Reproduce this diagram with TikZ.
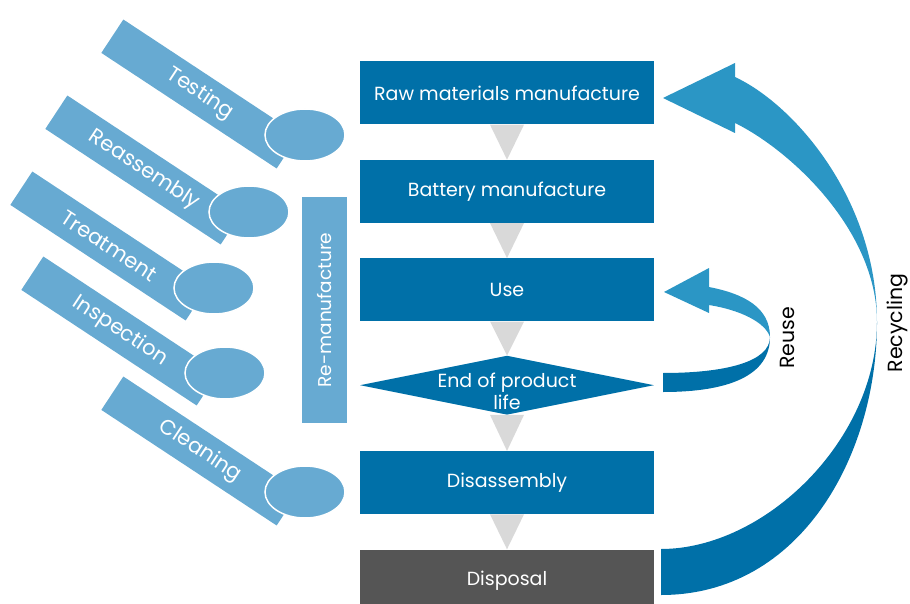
\documentclass[tikz,border=0pt]{standalone}
\usepackage{fontspec}
\setmainfont{Poppins}
\definecolor{boxblue}{HTML}{0070A8}
\definecolor{barblue}{HTML}{67AAD2}
\definecolor{loopblue}{HTML}{2B96C5}
\definecolor{dispgray}{HTML}{555555}
\definecolor{trigray}{HTML}{D9D9D9}
\usetikzlibrary{positioning, shapes.geometric, calc}
\tikzset{
	stage/.style={fill=boxblue, minimum width=294pt, minimum height=63pt,
		inner sep=0pt, text=white, font=\fontsize{19}{22}\selectfont, align=center},
	bar/.style={fill=barblue, minimum width=210pt, minimum height=40pt,
		inner sep=0pt, text=white, font=\fontsize{21}{24}\selectfont},
	blob/.style={ellipse, fill=barblue, draw=white, line width=1.5pt,
		minimum width=80pt, minimum height=52pt},
	tri/.style={fill=trigray},
	loopdark/.style={fill=boxblue},
	looplight/.style={fill=loopblue},
	sidelabel/.style={rotate=90, inner sep=1pt, font=\fontsize{20.5}{23}\selectfont}
}

\begin{document}
\begin{tikzpicture}[x=1pt, y=-1pt, node distance=35pt]
	\useasboundingbox (0,0) rectangle (910,604);
	% re-manufacture steps
	\node[bar, rotate=-33.4] (testing) at (200,94) {Testing};
	\node[blob] (testingend) at (305,135) {};
	\node[bar, rotate=-33.4] (reassembly) at (144,170) {Reassembly};
	\node[blob] (reassemblyend) at (249,212) {};
	\node[bar, rotate=-33.4] (treatment) at (109,246) {Treatment};
	\node[blob] (treatmentend) at (214,288) {};
	\node[bar, rotate=-33.4] (inspection) at (120,331) {Inspection};
	\node[blob] (inspectionend) at (225,373) {};
	\node[bar, rotate=-33.4] (cleaning) at (200,451) {Cleaning};
	\node[blob] (cleaningend) at (305,492) {};
	\node[bar, rotate=90, minimum width=226pt, minimum height=45pt,
		font=\fontsize{18.5}{21}\selectfont] (reman) at (324.5,310) {Re-manufacture};
	% life cycle
	\node[stage] (raw) at (507,93) {Raw materials manufacture};
	\node[stage, below=of raw] (battery) {Battery manufacture};
	\node[stage, below=of battery] (use) {Use};
	\node[stage, diamond, minimum height=59pt, below=34pt of use] (eol) {};
	\node[text=white, font=\fontsize{19}{22}\selectfont, align=center] (eoltext) at ($(eol)+(0,6)$) {End of product\\life};
	\node[stage, below=36pt of eol] (disasm) {Disassembly};
	\node[stage, fill=dispgray, below=of disasm] (disposal) {Disposal};
	\foreach \a/\b in {raw/battery, battery/use, use/eol, eol/disasm, disasm/disposal}
		\fill[tri] ($(\a.south)+(-17,0)$) -- ($(\a.south)+(17,0)$) -- (\b.north) -- cycle;
	% reuse loop
	\fill[loopdark] (663,392) .. controls (730,392) and (770,375) .. (770,337)
		.. controls (770,362) and (725,373) .. (663,373) -- cycle;
	\fill[looplight] (770,337) .. controls (770,308) and (745,294) .. (709,287)
		-- (709,268) -- (664,292) -- (709,313) -- (709,305)
		.. controls (740,310) and (765,322) .. (770,337) -- cycle;
	% recycling loop
	\fill[loopdark] (661,595) .. controls (801,595) and (877,455) .. (877,322)
		.. controls (877,440) and (765,549) .. (661,549) -- cycle;
	\fill[looplight] (877,322) .. controls (877,200) and (795,105) .. (735,77)
		-- (735,63) -- (663,98) -- (735,133) -- (735,123)
		.. controls (790,150) and (877,230) .. (877,322) -- cycle;
	\node[sidelabel] (reuse) at (787,338) {Reuse};
	\node[sidelabel] (recycling) at (897,323) {Recycling};
\end{tikzpicture}
\end{document}
